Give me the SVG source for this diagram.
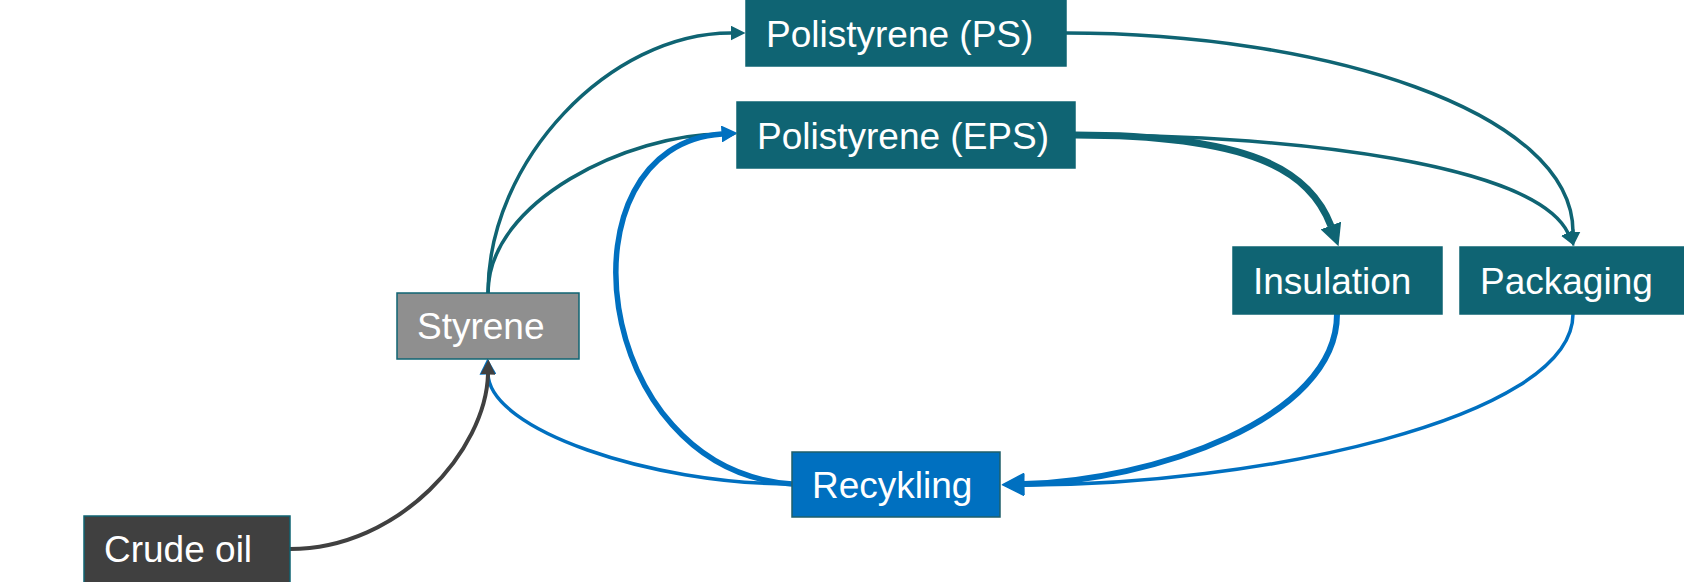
<svg xmlns="http://www.w3.org/2000/svg" width="1684" height="582" viewBox="0 0 1684 582">
<style>
.box{stroke-width:1.5}
.teal{fill:#0F6473;stroke:#0F6473}
.lbl{font-family:"Liberation Sans",Arial,sans-serif;font-size:37px;fill:#ffffff}
.c{fill:none;stroke-linecap:butt}
.ct{stroke:#0F6473}
.cb{stroke:#0070C0}
.cd{stroke:#404040}
</style>
<defs>
<marker id="aT" markerUnits="userSpaceOnUse" viewBox="0 0 15 15" markerWidth="15" markerHeight="15" refX="0.5" refY="7.5" orient="auto"><path d="M0,0 L15,7.5 L0,15 z" fill="#0F6473"/></marker>
<marker id="aTB" markerUnits="userSpaceOnUse" viewBox="0 0 22 22" markerWidth="22" markerHeight="22" refX="0.5" refY="11" orient="auto"><path d="M0,0 L22,11 L0,22 z" fill="#0F6473"/></marker>
<marker id="aB" markerUnits="userSpaceOnUse" viewBox="0 0 16 17" markerWidth="16" markerHeight="17" refX="0.5" refY="8.5" orient="auto"><path d="M0,0 L16,8.5 L0,17 z" fill="#0070C0"/></marker>
<marker id="aBB" markerUnits="userSpaceOnUse" viewBox="0 0 23 23" markerWidth="23" markerHeight="23" refX="0.5" refY="11.5" orient="auto"><path d="M0,0 L23,11.5 L0,23 z" fill="#0070C0"/></marker>
<marker id="aD" markerUnits="userSpaceOnUse" viewBox="0 0 15 15" markerWidth="15" markerHeight="15" refX="0.5" refY="7.5" orient="auto"><path d="M0,0 L15,7.5 L0,15 z" fill="#404040"/></marker>
</defs>
<g id="connectors">
<path class="c ct" stroke-width="3.5" d="M488,293 C488,160 610,33 731,33" marker-end="url(#aT)"/>
<path class="c ct" stroke-width="3.5" d="M488,293 C488,200 630,134 722,134" marker-end="url(#aT)"/>
<path class="c ct" stroke-width="3.5" d="M1066,33 C1320,33 1573,110 1573,232" marker-end="url(#aT)"/>
<path class="c ct" stroke-width="3.5" d="M1075,135 C1300,135 1535,165 1568,233" marker-end="url(#aT)"/>
<path class="c ct" stroke-width="7" d="M1075,135 C1250,135 1310,170 1331,226" marker-end="url(#aTB)"/>
<path class="c cb" stroke-width="3.5" d="M1573,314 C1573,420 1250,486 1024,485" marker-end="url(#aBB)"/>
<path class="c cb" stroke-width="6" d="M1337,314 C1337,420 1150,481 1024,484" marker-end="url(#aBB)"/>
<path class="c cb" stroke-width="5.5" d="M792,484 C590,470 555,145 722,134" marker-end="url(#aB)"/>
<path class="c cb" stroke-width="3.5" d="M792,484 C650,484 490,430 488,374" marker-end="url(#aB)"/>
<path class="c cd" stroke-width="4" d="M290,549 C400,549 486,450 488,374" marker-end="url(#aD)"/>
</g>
<g id="node-ps"><rect class="box teal" x="746" y="-1" width="320" height="67"/><text class="lbl" x="766" y="47">Polistyrene (PS)</text></g>
<g id="node-eps"><rect class="box teal" x="737" y="102" width="338" height="66"/><text class="lbl" x="757" y="149">Polistyrene (EPS)</text></g>
<g id="node-insulation"><rect class="box teal" x="1233" y="247" width="209" height="67"/><text class="lbl" x="1253" y="294">Insulation</text></g>
<g id="node-packaging"><rect class="box teal" x="1460" y="247" width="230" height="67"/><text class="lbl" x="1480" y="294">Packaging</text></g>
<g id="node-styrene"><rect class="box" x="397" y="293" width="182" height="66" fill="#8F8F8F" stroke="#0F6473"/><text class="lbl" x="417" y="339">Styrene</text></g>
<g id="node-recykling"><rect class="box" x="792" y="452" width="208" height="65" fill="#0070C0" stroke="#1F5F6A"/><text class="lbl" x="812" y="498">Recykling</text></g>
<g id="node-crude"><rect class="box" x="84" y="516" width="206" height="70" fill="#404040" stroke="#0F6473"/><text class="lbl" x="104" y="562">Crude oil</text></g>
</svg>
